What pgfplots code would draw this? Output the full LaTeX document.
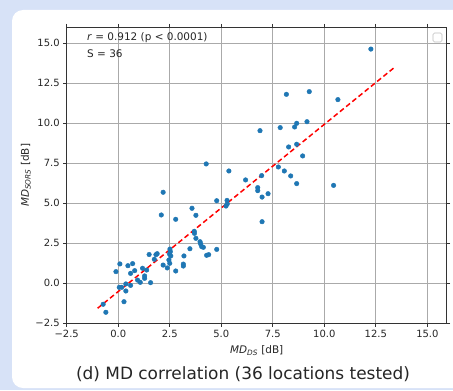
\documentclass[border=0pt]{standalone}
\usepackage{fontspec}
\setmainfont{DejaVu Sans}
\usepackage{pgfplots}
\pgfplotsset{compat=1.18}
\definecolor{bgl}{RGB}{215,226,247}
\definecolor{mplblue}{RGB}{31,119,180}
\definecolor{gridc}{RGB}{170,170,170}
\begin{document}
\begin{tikzpicture}[x=1bp,y=1bp]
\useasboundingbox (0,0) rectangle (453,390);
\fill[bgl] (0,0) rectangle (453,390);
\fill[white, rounded corners=11bp] (12,2) rectangle (480,380);
\begin{axis}[
  at={(66.7bp,66.7bp)}, anchor=south west,
  scale only axis, width=380bp, height=296bp,
  xmin=-2.5, xmax=15.94, ymin=-2.5, ymax=16,
  xtick={-2.5,0,2.5,5,7.5,10,12.5,15},
  xticklabels={−2.5,0.0,2.5,5.0,7.5,10.0,12.5,15.0},
  ytick={-2.5,0,2.5,5,7.5,10,12.5,15},
  yticklabels={−2.5,0.0,2.5,5.0,7.5,10.0,12.5,15.0},
  tick align=outside, major tick length=3.5bp,
  tick style={black!80, line width=0.8bp},
  ticklabel style={font=\fontsize{10}{12}\selectfont, text=black!85},
  xmajorgrids, ymajorgrids,
  major grid style={gridc, line width=0.8bp},
  axis line style={black!80, line width=0.9bp},
  axis background/.style={fill=white},
  xlabel={\textit{MD}\textsubscript{\textit{DS}} [dB]},
  ylabel={\textit{MD}\textsubscript{\textit{SORS}} [dB]},
  label style={font=\fontsize{10.5}{12}\selectfont, text=black!85},
  xlabel style={yshift=-1bp},
  ylabel style={yshift=-2bp},
  clip=false,
]
\addplot[only marks, mark=*, mark size=2.3bp, mark options={draw=mplblue, fill=mplblue}] coordinates {
(12.26,14.64) (8.16,11.81) (9.27,11.98) (10.66,11.48) (6.88,9.54)
(7.86,9.73) (8.56,9.77) (8.66,10.0) (9.16,10.1) (8.27,8.52)
(8.66,8.69) (8.95,7.96) (4.27,7.46) (5.37,7.02) (7.77,7.27)
(8.06,7.02) (8.37,6.71) (6.96,6.73) (6.18,6.46) (6.77,5.98)
(6.77,5.79) (7.27,5.6) (6.98,5.39) (8.66,6.23) (10.45,6.12)
(2.18,5.69) (4.78,5.16) (5.28,5.18) (5.29,4.96) (5.23,4.83)
(3.58,4.69) (2.09,4.27) (3.77,4.25) (2.79,4.0) (6.98,3.85)
(3.69,3.25) (3.7,3.12) (3.77,2.81) (3.97,2.6) (4.0,2.46)
(4.05,2.29) (4.13,2.25) (3.48,2.16) (4.78,2.12) (2.51,2.14)
(2.53,1.98) (2.49,1.83) (2.55,1.71) (3.19,1.71) (4.29,1.75)
(4.39,1.79) (1.83,1.79) (1.89,1.85) (1.5,1.8) (2.46,1.46)
(2.5,1.25) (3.16,1.2) (3.16,1.08) (2.18,1.14) (2.38,0.96)
(2.79,0.77) (1.75,1.5) (0.08,1.21) (-0.11,0.73) (0.47,1.1)
(0.70,1.23) (0.8,0.79) (0.6,0.62) (1.18,0.94) (1.38,0.83)
(1.28,0.46) (1.28,0.31) (0.94,0.2) (1.07,0.06) (1.57,0.04)
(0.6,-0.13) (0.37,-0.04) (0.37,-0.48) (0.17,-0.25) (0.05,-0.25)
(0.28,-1.15) (-0.73,-1.31) (-0.6,-1.81)
};
\addplot[red, line width=1.5bp, dash pattern=on 5bp off 3bp] coordinates {(-1,-1.56) (13.45,13.54)};
\end{axis}
\node[anchor=west, font=\fontsize{10.5}{12}\selectfont, text=black!85, inner sep=0] at (87,352.3) {\textit{r} = 0.912 (p < 0.0001)};
\node[anchor=west, font=\fontsize{10.5}{12}\selectfont, text=black!85, inner sep=0] at (87,336) {S = 36};
\draw[black!25, fill=white, rounded corners=1.5bp, line width=0.6bp] (433,348) rectangle (442,357);
\node[font=\fontsize{17}{20}\selectfont, text=black!85] at (243,16) {(d) MD correlation (36 locations tested)};
\end{tikzpicture}
\end{document}
